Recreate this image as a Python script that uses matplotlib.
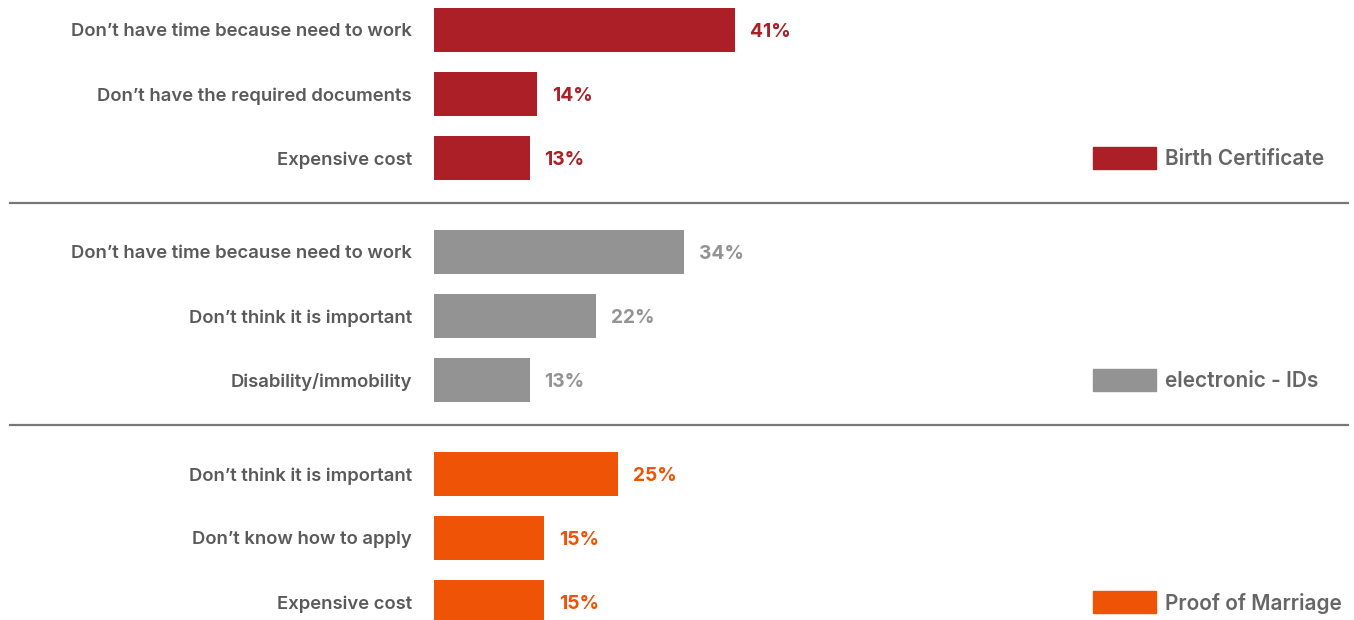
import matplotlib
matplotlib.use("Agg")
import matplotlib.pyplot as plt
from matplotlib.patches import Rectangle
from matplotlib.transforms import blended_transform_factory, offset_copy

# reasons for not having each document, % of respondents
groups = ["Birth Certificate", "electronic - IDs", "Proof of Marriage"]
colors = ["#AC1F27", "#939393", "#EF5306"]
reasons = [
    ["Don’t have time because need to work", "Don’t have the required documents", "Expensive cost"],
    ["Don’t have time because need to work", "Don’t think it is important", "Disability/immobility"],
    ["Don’t think it is important", "Don’t know how to apply", "Expensive cost"],
]
values = [
    [41, 14, 13],
    [34, 22, 13],
    [25, 15, 15],
]

W, H = 1354, 620
plt.rcParams["font.family"] = ["Inter", "DejaVu Sans"]

fig = plt.figure(figsize=(W / 100, H / 100), dpi=100)
left = 434 / W
ax = fig.add_axes([left, 0, 1 - left, 1])
ax.set_xlim(0, (W - 434) / 7.35)
ax.set_ylim(H, 0)
ax.axis("off")

row_gap, group_gap, first = 64, 222, 30
bar_h = 44
label_tf = offset_copy(ax.transData, fig=fig, x=-22, y=0, units="dots")
value_tf = offset_copy(ax.transData, fig=fig, x=15, y=0, units="dots")
fig_x = blended_transform_factory(fig.transFigure, ax.transData)

for g, (name, color) in enumerate(zip(groups, colors)):
    ys = [first + g * group_gap + i * row_gap for i in range(len(values[g]))]
    ax.barh(ys, values[g], height=bar_h, color=color, left=0)
    for y, v, r in zip(ys, values[g], reasons[g]):
        ax.text(0, y, r, transform=label_tf, ha="right", va="center_baseline",
                fontsize=13.3, fontweight="semibold", color="#5A5A5A")
        ax.text(v, y, f"{v}%", transform=value_tf, ha="left", va="center_baseline",
                fontsize=13.8, fontweight="bold", color=color)

    # group legend next to the last row
    ly = ys[-1]
    ax.add_patch(Rectangle((1093 / W, ly - 11), 63 / W, 22, transform=fig_x,
                           color=color, clip_on=False))
    ax.text(1165 / W, ly - 1, name, transform=fig_x, ha="left", va="center_baseline",
            fontsize=15, fontweight="semibold", color="#666666")

    if g < len(groups) - 1:
        sep = ys[-1] + 45
        ax.plot([10 / W, 1348 / W], [sep, sep], transform=fig_x,
                color="#777777", lw=1.6, clip_on=False)

fig.savefig("out.png", dpi=100)
